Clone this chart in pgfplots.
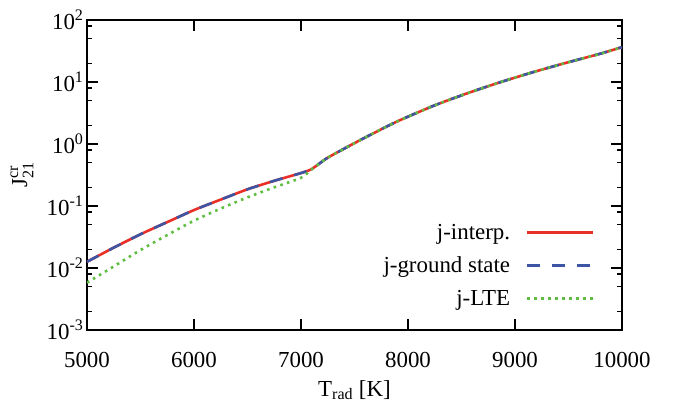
\documentclass[border=0pt]{standalone}
\usepackage{fontspec}
\setmainfont{Liberation Serif}
\usepackage{amsmath}
\usepackage{pgfplots}
\pgfplotsset{compat=1.18}
\definecolor{cred}{RGB}{232,48,40}
\definecolor{cblue}{RGB}{60,85,165}
\definecolor{cgreen}{RGB}{95,190,65}
\pgfplotstableread{
T J
5000 0.0126
5250 0.0213
5500 0.035
5750 0.055
6000 0.086
6250 0.127
6500 0.186
6750 0.255
7000 0.34
7100 0.395
7240 0.587
7427 0.885
7614 1.31
7894 2.29
8237 4.12
8549 6.53
8860 9.89
9171 14.45
9483 20.5
9794 28.5
10000 36.5
}\interp
\pgfplotstableread{
T J
5000 0.0126
5250 0.0213
5500 0.035
5750 0.055
6000 0.086
6250 0.127
6500 0.186
6750 0.255
7000 0.34
7100 0.395
7240 0.587
7427 0.885
7614 1.31
7894 2.29
8237 4.12
8549 6.53
8860 9.89
9171 14.45
9483 20.5
9794 28.5
10000 36.5
}\ground
\pgfplotstableread{
T J
5000 0.0058
5250 0.0106
5500 0.0195
5750 0.034
6000 0.058
6250 0.091
6500 0.138
6750 0.2
7000 0.285
7100 0.39
7240 0.587
7427 0.885
7614 1.31
7894 2.29
8237 4.12
8549 6.53
8860 9.89
9171 14.45
9483 20.5
9794 28.5
10000 36.5
}\lte
\begin{document}
\begin{tikzpicture}[font=\fontsize{23}{27}\selectfont]
\begin{axis}[
  name=ax, at={(0,0)}, anchor=south west,
  width=535bp, height=310bp, scale only axis,
  xmin=5000, xmax=10000, ymode=log, ymin=1e-3, ymax=1e2,
  scaled x ticks=false,
  xtick={5000,6000,7000,8000,9000,10000},
  xticklabels={5000,6000,7000,8000,9000,10000},
  ytick={1e-3,1e-2,1e-1,1,10,100},
  yticklabels={10\textsuperscript{-3},10\textsuperscript{-2},10\textsuperscript{-1},10\textsuperscript{0},10\textsuperscript{1},10\textsuperscript{2}},
  minor ytick={2e-3,5e-3,8e-3,2e-2,5e-2,8e-2,2e-1,5e-1,8e-1,2,5,8,20,50,80},
  tick align=inside, major tick length=11bp, minor tick length=5bp,
  tick style={black, line width=1.1bp},
  axis line style={line width=1.5bp},
  xticklabel style={yshift=-19bp},
  xlabel={T$_{\text{rad}}$ [K]},
  ylabel={$\text{J}^{\text{cr}}_{\text{21}}$},
  xlabel style={at={(axis description cs:0.5,-0.213)}, anchor=base},
  ylabel style={at={(axis description cs:-0.1215,0.5)}, anchor=center, rotate=0},
  legend style={draw=none, fill=none, at={(0.955,0.355)}, anchor=north east, row sep=12bp, column sep=14bp, font=\fontsize{23}{27}\selectfont},
  legend cell align=right,
  legend plot pos=right,
  legend image code/.code={\draw[#1] (0bp,0bp) -- (66bp,0bp);},
]
\addplot[cred, line width=2.6bp, smooth, tension=0.4] table[x=T, y=J] {\interp};
\addlegendentry{j-interp.}
\addplot[cblue, line width=2.6bp, smooth, tension=0.4, dash pattern=on 13bp off 12bp] table[x=T, y=J] {\ground};
\addlegendentry{j-ground state}
\addplot[cgreen, line width=2.6bp, smooth, tension=0.4, dash pattern=on 2.6bp off 4.4bp] table[x=T, y=J] {\lte};
\addlegendentry{j-LTE}
\end{axis}
\pgfresetboundingbox
\path[use as bounding box] (-87bp,-77bp) rectangle (594bp,330bp);
\end{tikzpicture}
\end{document}
